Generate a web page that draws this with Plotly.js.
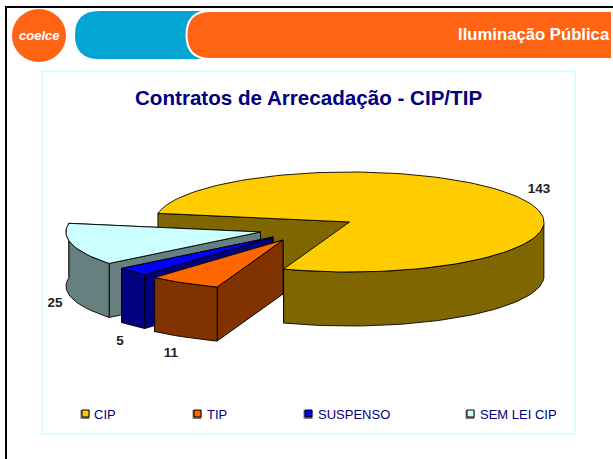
<!DOCTYPE html>
<html><head><meta charset="utf-8">
<script src="https://cdn.plot.ly/plotly-3.0.1.min.js"></script>
<style>html,body{margin:0;padding:0;background:#fff}#c{width:613px;height:459px}</style>
</head><body><div id="c"></div>
<script>
const categories = ['CIP','TIP','SUSPENSO','SEM LEI CIP'];
const values = [143,11,5,25];
const topColors = ['#FFCC00','#FF6600','#0000FF','#CCFFFF'];
const sideColors = ['#806600','#803300','#000080','#668080'];
const apexX = [349.5,283,273,260.5];
const apexY = [222,240,237,232];
const labelX = [539,171,120,55];
const labelY = [189.5,353.5,341.5,303.5];
const legendX = [85.5,197.5,308.5,470.5];
const legendTextX = [94,207,317.5,480];
const startAngle = 190, radiusX = 194.5, radiusY = 50, depth = 54;

const FONT = '"Liberation Sans", Arial, sans-serif';
const total = values.reduce((a,b)=>a+b,0);
const traces = [];
function poly(xs, ys, fill){
  traces.push({x:xs,y:ys,type:'scatter',mode:'lines',fill:'toself',fillcolor:fill,
    line:{color:'#000',width:0.9},hoverinfo:'skip',showlegend:false});
}
function arc(i,a,b){
  const xs=[],ys=[],n=Math.max(2,Math.ceil(Math.abs(b-a)/2));
  for(let k=0;k<=n;k++){const t=(a+(b-a)*k/n)*Math.PI/180;
    xs.push(apexX[i]+radiusX*Math.cos(t));ys.push(apexY[i]+radiusY*Math.sin(t));}
  return [xs,ys];
}
function wedge(i,t1,t2){
  const cx=apexX[i],cy=apexY[i];
  const [ax,ay]=arc(i,t1,t2);
  const n=ax.length-1;
  poly([cx,ax[n],ax[n],cx,cx],[cy,ay[n],ay[n]+depth,cy+depth,cy],sideColors[i]);
  poly([cx,ax[0],ax[0],cx,cx],[cy,ay[0],ay[0]+depth,cy+depth,cy],sideColors[i]);
  const vis=[];
  for(let k=0;k<=n;k++){const s=(t1+(t2-t1)*k/n)%360; if(s>=0&&s<=180+(i===3?10:0)) vis.push(k);}
  if(vis.length>1){
    const wx=vis.map(k=>ax[k]),wy=vis.map(k=>ay[k]);
    poly(wx.concat(wx.slice().reverse(),[wx[0]]),
         wy.concat(wy.map(v=>v+depth).reverse(),[wy[0]]),sideColors[i]);
  }
  poly([cx].concat(ax,[cx]),[cy].concat(ay,[cy]),topColors[i]);
}
const spans=[];let cur=startAngle;
values.forEach(v=>{const s=v/total*360;spans.push([cur,cur+s]);cur+=s;});
wedge(0,spans[0][0],spans[0][1]);
[3,2,1].forEach(i=>{
  wedge(i,spans[i][0]%360,spans[i][1]%360 || 360);
});
traces.push({x:labelX,y:labelY,type:'scatter',mode:'text',text:values.map(String),
  textposition:'middle center',textfont:{family:FONT,size:13.5,color:'#222',weight:700},
  hoverinfo:'skip',showlegend:false});
traces.push({x:legendX.map(v=>v-0.5),y:categories.map(()=>414.5),type:'scatter',mode:'markers',
  marker:{symbol:'square',size:9,color:'#808080',line:{width:0}},hoverinfo:'skip',showlegend:false});
traces.push({x:legendX,y:categories.map(()=>413.5),type:'scatter',mode:'markers',
  marker:{symbol:'square',size:7,color:topColors,line:{color:'#000',width:1}},hoverinfo:'skip',showlegend:false});

const ann=[];
categories.forEach((c,i)=>ann.push({x:legendTextX[i],y:414,xref:'x',yref:'y',text:c,showarrow:false,
  xanchor:'left',yanchor:'middle',xshift:-2,font:{family:FONT,size:13,color:'#000080'}}));
ann.push({x:308.5,y:97,xref:'x',yref:'y',text:'<b>Contratos de Arrecadação - CIP/TIP</b>',showarrow:false,
  font:{family:FONT,size:20.6,color:'#000080'}});
ann.push({x:609,y:34,xref:'x',yref:'y',text:'<b>Iluminação Pública</b>',showarrow:false,xanchor:'right',xshift:3,
  font:{family:FONT,size:16.7,color:'#FFFFFF'}});
ann.push({x:39,y:35,xref:'x',yref:'y',text:'<b><i>coelce</i></b>',showarrow:false,
  font:{family:FONT,size:13,color:'#FFFFFF'}});

function round(x0,y0,x1,y1,r){
  return `M${x0+r},${y0} L${x1},${y0} L${x1},${y1} L${x0+r},${y1} Q${x0},${y1} ${x0},${y1-r} L${x0},${y0+r} Q${x0},${y0} ${x0+r},${y0} Z`;
}
const shapes=[
  {type:'rect',x0:42,y0:71,x1:575,y1:434,line:{color:'#CCFFFF',width:1.5},fillcolor:'#FFFFFF',layer:'below'},
  {type:'line',x0:6,y0:7,x1:613,y1:7,line:{color:'#000',width:2},layer:'below'},
  {type:'line',x0:6,y0:6,x1:6,y1:459,line:{color:'#000',width:2},layer:'below'},
  {type:'circle',x0:12,y0:9,x1:66,y1:62,fillcolor:'#FF6314',line:{width:0},layer:'below'},
  {type:'path',path:round(75,11,205,59,24),fillcolor:'#03A5D3',line:{width:0},layer:'below'},
  {type:'path',path:round(186.5,11,612,59,24),fillcolor:'#FF6314',line:{color:'#FFFFFF',width:2},layer:'below'}
];
Plotly.newPlot('c',traces,{
  width:613,height:459,margin:{l:0,r:0,t:0,b:0},
  paper_bgcolor:'#fff',plot_bgcolor:'#fff',showlegend:false,
  xaxis:{range:[0,613],visible:false,fixedrange:true},
  yaxis:{range:[459,0],visible:false,fixedrange:true},
  shapes:shapes,annotations:ann
},{staticPlot:true,displayModeBar:false});
</script></body></html>
